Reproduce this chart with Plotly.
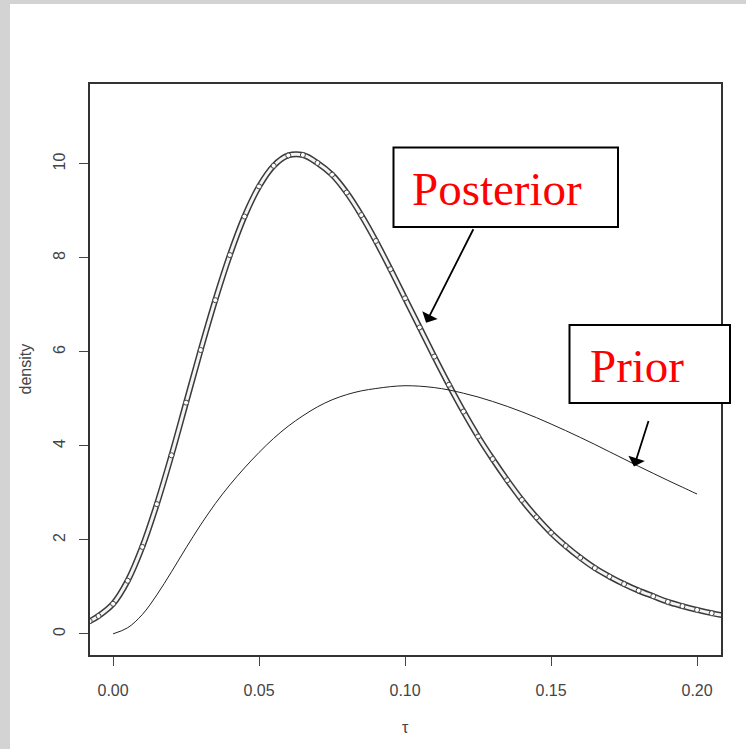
import plotly.graph_objects as go

# ---------------- data ----------------
prior_tau = [0.000, 0.005, 0.010, 0.015, 0.020, 0.025, 0.030, 0.035, 0.040, 0.045,
             0.050, 0.055, 0.060, 0.065, 0.070, 0.075, 0.080, 0.085, 0.090, 0.095,
             0.100, 0.105, 0.110, 0.115, 0.120, 0.125, 0.130, 0.135, 0.140, 0.145,
             0.150, 0.155, 0.160, 0.165, 0.170, 0.175, 0.180, 0.185, 0.190, 0.195,
             0.200]
prior_density = [0.00, 0.13, 0.41, 0.83, 1.32, 1.83, 2.32, 2.77, 3.17, 3.53,
                 3.86, 4.16, 4.42, 4.64, 4.83, 4.98, 5.09, 5.17, 5.22, 5.26,
                 5.28, 5.27, 5.24, 5.19, 5.12, 5.04, 4.945, 4.84, 4.725, 4.60,
                 4.465, 4.325, 4.18, 4.03, 3.875, 3.72, 3.565, 3.415, 3.265, 3.12,
                 2.975]

post_tau = [-0.010, -0.008, -0.005, 0.000, 0.005, 0.010, 0.015, 0.020, 0.025, 0.030,
            0.035, 0.040, 0.045, 0.050, 0.055, 0.060, 0.065, 0.070, 0.075, 0.080,
            0.085, 0.090, 0.095, 0.100, 0.105, 0.110, 0.115, 0.120, 0.125, 0.130,
            0.135, 0.140, 0.145, 0.150, 0.155, 0.160, 0.165, 0.170, 0.175, 0.180,
            0.185, 0.190, 0.195, 0.200, 0.205, 0.210, 0.212]
post_density = [0.22, 0.27, 0.38, 0.64, 1.13, 1.85, 2.76, 3.80, 4.92, 6.04,
                7.10, 8.06, 8.88, 9.52, 9.96, 10.18, 10.19, 10.02, 9.77, 9.39,
                8.91, 8.36, 7.76, 7.14, 6.52, 5.90, 5.30, 4.73, 4.20, 3.72,
                3.27, 2.85, 2.48, 2.15, 1.87, 1.62, 1.40, 1.22, 1.06, 0.92,
                0.80, 0.68, 0.59, 0.51, 0.44, 0.38, 0.36]

x_ticks = [0.00, 0.05, 0.10, 0.15, 0.20]
y_ticks = [0, 2, 4, 6, 8, 10]
x_range = [-0.0079, 0.2082]
y_range = [-0.45, 11.70]

# annotation arrows: tip in data coords, tail offset in pixels
post_label = "Posterior"
prior_label = "Prior"
post_arrow_tip = (0.1072, 6.62)
prior_arrow_tip = (0.1784, 3.56)

# ---------------- figure ----------------
W, H = 746, 749
L, R, T, B = 90, 25, 84, 94
PW, PH = W - L - R, H - T - B


def px_x(p):
    return (p - L) / PW


def px_y(p):
    return (H - B - p) / PH


fig = go.Figure()

# posterior: chain of small open circles, drawn as a tube + circle markers
fig.add_trace(go.Scatter(x=post_tau, y=post_density, mode="lines",
                         line=dict(color="#3a3a3a", width=6, shape="spline"),
                         hoverinfo="skip", showlegend=False))
fig.add_trace(go.Scatter(x=post_tau, y=post_density, mode="lines+markers",
                         line=dict(color="#f4f4f4", width=3, shape="spline"),
                         marker=dict(symbol="circle", size=5, color="white",
                                     line=dict(color="#444", width=1)),
                         name="Posterior", showlegend=False))
# prior: thin line
fig.add_trace(go.Scatter(x=prior_tau, y=prior_density, mode="lines",
                         line=dict(color="#222", width=1, shape="spline"),
                         name="Prior", showlegend=False))

axis_common = dict(showline=True, mirror=True, linecolor="#333", linewidth=1.5,
                   ticks="outside", ticklen=9, tickwidth=1.3, tickcolor="#444",
                   showgrid=False, zeroline=False,
                   tickfont=dict(family="Liberation Sans, Arial, sans-serif",
                                 size=16, color="#444"))

fig.update_xaxes(range=x_range, tickvals=x_ticks, tickformat=".2f",
                 ticklabelstandoff=11, **axis_common)
fig.update_yaxes(range=y_range, tickvals=y_ticks, tickangle=-90,
                 ticklabelstandoff=8, **axis_common)

shapes = [
    # grey window frame (left and top)
    dict(type="rect", xref="paper", yref="paper", layer="below",
         x0=px_x(0), x1=px_x(10), y0=px_y(H), y1=px_y(0),
         fillcolor="#d3d3d3", line=dict(width=0)),
    dict(type="rect", xref="paper", yref="paper", layer="below",
         x0=px_x(0), x1=px_x(W), y0=px_y(4), y1=px_y(0),
         fillcolor="#d3d3d3", line=dict(width=0)),
    # label boxes
    dict(type="rect", xref="paper", yref="paper", layer="above",
         x0=px_x(393.5), x1=px_x(618), y0=px_y(227), y1=px_y(147.5),
         fillcolor="white", line=dict(color="black", width=2)),
    dict(type="rect", xref="paper", yref="paper", layer="above",
         x0=px_x(569.5), x1=px_x(730), y0=px_y(403), y1=px_y(325),
         fillcolor="white", line=dict(color="black", width=2)),
]

serif = "Liberation Serif, Times New Roman, serif"
annotations = [
    dict(text=post_label, xref="paper", yref="paper", x=px_x(410), y=px_y(189),
         xanchor="left", yanchor="middle", showarrow=False,
         font=dict(family=serif, size=47, color="#ff0000")),
    dict(text=prior_label, xref="paper", yref="paper", x=px_x(588), y=px_y(365.5),
         xanchor="left", yanchor="middle", showarrow=False,
         font=dict(family=serif, size=47, color="#ff0000")),
    dict(text="", x=post_arrow_tip[0], y=post_arrow_tip[1], xref="x", yref="y",
         showarrow=True, ax=48, ay=-95, arrowhead=1, arrowsize=1.6,
         arrowwidth=1.8, arrowcolor="black", standoff=0),
    dict(text="", x=prior_arrow_tip[0], y=prior_arrow_tip[1], xref="x", yref="y",
         showarrow=True, ax=15, ay=-47, arrowhead=1, arrowsize=1.6,
         arrowwidth=1.8, arrowcolor="black", standoff=0),
    # axis titles
    dict(text="τ", xref="paper", yref="paper", x=0.5, y=px_y(727),
         xanchor="center", yanchor="middle", showarrow=False,
         font=dict(family="Liberation Sans, Arial, sans-serif", size=16, color="#444")),
    dict(text="density", xref="paper", yref="paper", x=px_x(25), y=0.5,
         xanchor="center", yanchor="middle", showarrow=False, textangle=-90,
         font=dict(family="Liberation Sans, Arial, sans-serif", size=16, color="#444")),
]

fig.update_layout(width=W, height=H, margin=dict(l=L, r=R, t=T, b=B, pad=0),
                  paper_bgcolor="white", plot_bgcolor="white",
                  shapes=shapes, annotations=annotations, showlegend=False)

fig.write_html("out.html")
